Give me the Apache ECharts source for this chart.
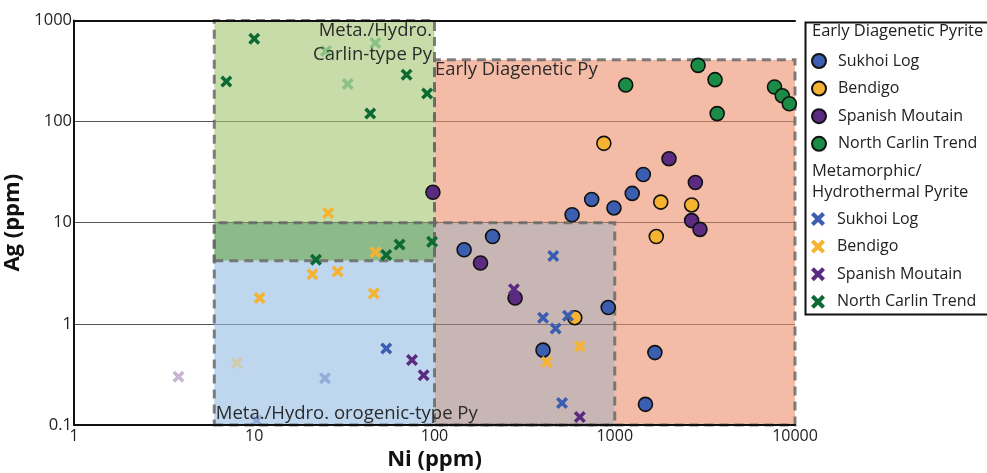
<!DOCTYPE html>
<html>
<head>
<meta charset="utf-8">
<script src="https://cdn.jsdelivr.net/npm/echarts@6/dist/echarts.min.js"></script>
<style>
    html, body { margin: 0; padding: 0; background: #fff; }
    #chart { width: 987px; height: 473px; }
</style>
</head>
<body>
<div id="chart"></div>
<script>
// axis ticks
var xTicks = [1, 10, 100, 1000, 10000];
var yTicks = [0.1, 1, 10, 100, 1000];

// early diagenetic pyrite  [Ni, Ag]
var edSukhoi = [[146, 5.4], [210, 7.3], [400, 0.55], [580, 12], [745, 17], [920, 1.45], [990, 14], [1250, 19.5], [1440, 30], [1480, 0.16], [1670, 0.52]];
var edBendigo = [[600, 1.15], [870, 61], [1700, 7.3], [1800, 16], [2670, 15]];
var edSpanish = [[98, 20], [180, 4.0], [280, 1.8], [2000, 43], [2670, 10.5], [2800, 25], [2970, 8.6]];
var edCarlin = [[1150, 230], [2900, 360], [3600, 260], [3700, 120], [7700, 220], [8500, 180], [9300, 150]];

// metamorphic / hydrothermal pyrite  [Ni, Ag]
var mhSukhoi = [[54, 0.57], [400, 1.15], [456, 4.7], [470, 0.9], [510, 0.165], [550, 1.2]];
var mhSukhoiFaint = [[24.7, 0.29], [10.3, 0.11]];
var mhBendigo = [[10.7, 1.8], [21, 3.1], [25.7, 12.5], [29, 3.3], [46, 2.0], [47, 5.1], [420, 0.42], [640, 0.6]];
var mhBendigoFaint = [[8, 0.41]];
var mhSpanish = [[75, 0.44], [87, 0.31], [276, 2.2], [640, 0.12]];
var mhSpanishFaint = [[3.8, 0.30]];
var mhCarlin = [[7, 250], [10, 660], [22, 4.3], [44, 120], [54, 4.8], [64, 6.1], [70, 290], [91, 190], [97, 6.5]];
var mhCarlinFaint = [[25, 500], [47, 600], [33, 236]];

// field boxes  [[Ni min, Ag min], [Ni max, Ag max]]
var carlinBox = [[6, 4.2], [100, 1000]];
var orogenicBox = [[6, 0.1], [1000, 10]];
var earlyBox = [[100, 0.1], [10000, 410]];

var FONT = 'Open Sans';
var xMark = 'path://M0,2.5 L2.5,0 L6,3.5 L9.5,0 L12,2.5 L8.5,6 L12,9.5 L9.5,12 L6,8.5 L2.5,12 L0,9.5 L3.5,6 Z';

var colors = {
    sukhoi: '#3b5eb0',
    bendigo: '#f6b332',
    spanish: '#5b2b82',
    carlin: '#1b8c45',
    carlinX: '#0d6a33'
};

function area(a, b, fill) {
    return [{ coord: a, itemStyle: { color: fill } }, { coord: b }];
}

// fills, split so that overlaps get their own colour
var fills = [
    area([carlinBox[0][0], orogenicBox[1][1]], carlinBox[1], 'rgba(163,197,113,0.6)'),
    area(carlinBox[0], [carlinBox[1][0], orogenicBox[1][1]], 'rgba(63,140,58,0.6)'),
    area(orogenicBox[0], [carlinBox[1][0], carlinBox[0][1]], 'rgba(147,188,227,0.6)'),
    area(earlyBox[0], orogenicBox[1], 'rgba(163,133,130,0.6)'),
    area([earlyBox[0][0], orogenicBox[1][1]], earlyBox[1], 'rgba(237,143,107,0.6)'),
    area([orogenicBox[1][0], earlyBox[0][1]], [earlyBox[1][0], orogenicBox[1][1]], 'rgba(237,143,107,0.6)')
];

function boxLabel(pos, text, dist, lh, pad) {
    return {
        show: true, position: pos, distance: dist, formatter: text,
        color: '#2b2b2b', fontFamily: FONT, fontSize: 18.5, lineHeight: lh, padding: pad,
        align: pos.indexOf('Right') > 0 ? 'right' : 'left'
    };
}
var borders = [
    [{ coord: carlinBox[0], label: boxLabel('insideTopRight', 'Meta./Hydro.\nCarlin-type Py', 0, 24, [0, 4, 0, 0]) }, { coord: carlinBox[1] }],
    [{ coord: earlyBox[0], label: boxLabel('insideTopLeft', 'Early Diagenetic Py', 2, 20, 0) }, { coord: earlyBox[1] }],
    [{ coord: orogenicBox[0], label: boxLabel('insideBottomLeft', 'Meta./Hydro. orogenic-type Py', 3, 20, 0) }, { coord: orogenicBox[1] }]
];

function early(name, data, color) {
    return {
        name: 'ED ' + name, type: 'scatter', data: data, z: 4,
        symbol: 'circle', symbolSize: 14,
        itemStyle: { color: color, borderColor: '#111', borderWidth: 1.6, opacity: 1 }
    };
}
function meta(name, data, color, faint) {
    return {
        name: 'MH ' + name, type: 'scatter', data: data, z: 5,
        symbol: xMark, symbolSize: 12,
        itemStyle: { color: color, opacity: faint ? 0.35 : 1 }
    };
}
function tickText(v) { return String(+(+v).toPrecision(3)); }

var chart = echarts.init(document.getElementById('chart'));

var option = {
    animation: false,
    grid: { left: 74, right: 192, top: 20.5, bottom: 48, containLabel: false, outerBoundsMode: 'none' },
    xAxis: [{
        type: 'log', logBase: 10, min: xTicks[0], max: xTicks[xTicks.length - 1], z: 10,
        name: 'Ni (ppm)', nameLocation: 'middle', nameGap: 23,
        nameTextStyle: { fontFamily: FONT, fontWeight: 'bold', fontSize: 22, color: '#111' },
        axisLine: { lineStyle: { color: '#111', width: 2 } },
        axisTick: { show: false },
        splitLine: { show: false },
        axisLabel: { fontFamily: FONT, fontSize: 16, color: '#222', margin: 3, formatter: tickText }
    }, {
        type: 'log', logBase: 10, min: xTicks[0], max: xTicks[xTicks.length - 1], z: 10,
        position: 'top',
        axisLine: { lineStyle: { color: '#111', width: 2 } },
        axisTick: { show: false }, axisLabel: { show: false }, splitLine: { show: false }
    }],
    yAxis: {
        type: 'log', logBase: 10, min: yTicks[0], max: yTicks[yTicks.length - 1],
        name: 'Ag (ppm)', nameLocation: 'middle', nameGap: 41,
        nameTextStyle: { fontFamily: FONT, fontWeight: 'bold', fontSize: 22, color: '#111' },
        axisLine: { lineStyle: { color: '#111', width: 2 } },
        axisTick: { show: false },
        splitLine: { lineStyle: { color: '#555', width: 1 } },
        axisLabel: { fontFamily: FONT, fontSize: 16.5, color: '#222', margin: 2, formatter: tickText }
    },
    legend: [{
        orient: 'vertical', left: 811, top: 53, padding: 0,
        itemWidth: 14, itemHeight: 14, itemGap: 11.6,
        data: ['ED Sukhoi Log', 'ED Bendigo', 'ED Spanish Moutain', 'ED North Carlin Trend'],
        formatter: function (n) { return n.slice(3); },
        textStyle: { fontFamily: FONT, fontSize: 16, color: '#222', padding: [0, 0, 0, 7] }
    }, {
        orient: 'vertical', left: 811, top: 211, padding: 0,
        itemWidth: 14, itemHeight: 14, itemGap: 11.6,
        data: ['MH Sukhoi Log', 'MH Bendigo', 'MH Spanish Moutain', 'MH North Carlin Trend'],
        formatter: function (n) { return n.slice(3); },
        textStyle: { fontFamily: FONT, fontSize: 16, color: '#222', padding: [0, 0, 0, 7] }
    }],
    graphic: [
        { type: 'rect', left: 803, top: 20, shape: { width: 184, height: 292 }, style: { fill: 'none', stroke: '#111', lineWidth: 2 } },
        { type: 'text', left: 812, top: 23, style: { text: 'Early Diagenetic Pyrite', font: '16.5px "Open Sans"', fill: '#222' } },
        { type: 'text', left: 812, top: 161, style: { text: 'Metamorphic/\nHydrothermal Pyrite', font: '16.5px "Open Sans"', fill: '#222', lineHeight: 21 } }
    ],
    series: [
        {
            name: 'fields', type: 'line', data: [], z: 1, silent: true,
            markArea: { silent: true, itemStyle: { borderWidth: 0 }, label: { show: false }, data: fills }
        },
        {
            name: 'field borders', type: 'line', data: [], z: 3, silent: true,
            markArea: {
                silent: true,
                itemStyle: { color: 'rgba(0,0,0,0)', borderColor: 'rgba(105,105,105,0.85)', borderWidth: 3, borderType: [9, 6] },
                data: borders
            }
        },
        early('Sukhoi Log', edSukhoi, colors.sukhoi),
        early('Bendigo', edBendigo, colors.bendigo),
        early('Spanish Moutain', edSpanish, colors.spanish),
        early('North Carlin Trend', edCarlin, colors.carlin),
        meta('Sukhoi Log', mhSukhoi, colors.sukhoi),
        meta('Bendigo', mhBendigo, colors.bendigo),
        meta('Spanish Moutain', mhSpanish, colors.spanish),
        meta('North Carlin Trend', mhCarlin, colors.carlinX),
        meta('Sukhoi Log', mhSukhoiFaint, colors.sukhoi, true),
        meta('Bendigo', mhBendigoFaint, colors.bendigo, true),
        meta('Spanish Moutain', mhSpanishFaint, colors.spanish, true),
        meta('North Carlin Trend', mhCarlinFaint, colors.carlin, true)
    ]
};

chart.setOption(option);
</script>
</body>
</html>
